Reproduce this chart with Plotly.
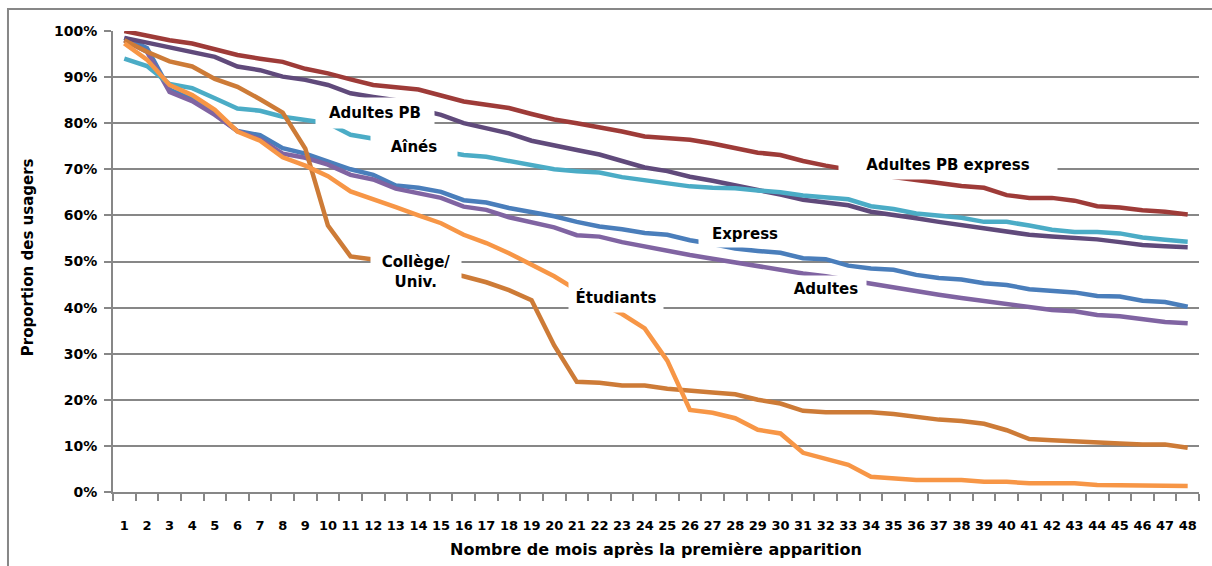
import plotly.graph_objects as go

# Months since first appearance
months = list(range(1, 49))

# Share of users still active (%), by user category
adultes_pb_express = [100, 99, 98, 97.3, 96, 94.8, 94, 93.3, 91.8, 90.8, 89.5, 88.3,
                      87.8, 87.3, 86, 84.7, 84, 83.3, 82, 80.8, 80, 79.2, 78.2, 77.1,
                      76.7, 76.4, 75.6, 74.5, 73.6, 73.1, 71.8, 70.8, 70, 69, 68.3, 67.7,
                      67, 66.4, 66, 64.4, 63.8, 63.8, 63.2, 62, 61.7, 61.1, 60.8, 60.2]
adultes_pb = [98.5, 97.5, 96.6, 95.5, 94.4, 92.3, 91.5, 90.1, 89.4, 88.3, 86.5, 85.7,
              85, 83, 81.8, 80, 78.9, 77.8, 76.2, 75.3, 74.2, 73.2, 71.8, 70.4,
              69.6, 68.4, 67.5, 66.6, 65.5, 64.5, 63.4, 62.8, 62.2, 60.8, 60.2, 59.4,
              58.6, 57.9, 57, 56.4, 55.8, 55.4, 55.1, 54.8, 54.2, 53.6, 53.3, 53.1]
aines = [94, 92.4, 88.5, 87.6, 85.4, 83.2, 82.7, 81.4, 80.7, 80, 77.5, 76.7,
         75.8, 74.8, 74, 73.1, 72.7, 71.8, 71.1, 70, 69.6, 69.3, 68.3, 67.6,
         67, 66.3, 66, 65.9, 65.4, 65, 64.3, 63.8, 63.5, 62, 61.4, 60.4,
         60, 59.5, 58.6, 58.6, 57.8, 56.9, 56.4, 56.4, 56.1, 55.2, 54.7, 54.3]
express = [98.5, 96.3, 87.3, 85.2, 82, 78.3, 77.4, 74.6, 73.4, 71.8, 70, 68.8,
           66.5, 66, 65.1, 63.3, 62.8, 61.6, 60.8, 59.8, 58.6, 57.6, 57, 56.2,
           55.8, 54.6, 53.8, 52.8, 52.3, 51.9, 50.7, 50.5, 49.1, 48.5, 48.2, 47.1,
           46.4, 46.1, 45.3, 44.9, 44, 43.6, 43.3, 42.5, 42.4, 41.5, 41.2, 40.2]
adultes = [98, 95.5, 86.8, 84.8, 81.8, 78.3, 76.5, 73.4, 72.5, 71, 68.8, 67.8,
           65.8, 64.8, 63.8, 61.9, 61.2, 59.6, 58.4, 57.4, 55.7, 55.4, 54.2, 53.2,
           52.4, 51.4, 50.6, 49.8, 48.9, 48.3, 47.4, 46.8, 46, 45.1, 44.4, 43.4,
           42.8, 42.1, 41.4, 40.8, 40.1, 39.5, 39.2, 38.4, 38.1, 37.5, 36.9, 36.6]
college_univ = [98, 95.5, 93.4, 92.3, 89.6, 87.9, 85.2, 82.3, 74.5, 57.8, 51.1, 50.5,
                49.8, 49, 48, 46.8, 45.5, 43.8, 41.6, 31.8, 23.9, 23.7, 23.1, 23.1,
                22.4, 22.1, 21.6, 21.2, 20, 19.2, 17.6, 17.3, 17.3, 17.3, 16.9, 16.3,
                15.7, 15.4, 14.8, 13.4, 11.5, 11.2, 10.9, 10.6, 10.5, 10.3, 10.3, 9.6]
etudiants = [97.3, 93.8, 88.3, 86.1, 82.9, 78.2, 76.2, 72.6, 70.8, 68.5, 65.2, 63.6,
             61.8, 60, 58.3, 55.8, 54, 51.8, 49.3, 46.8, 43.8, 41, 38.6, 35.5,
             28.5, 17.8, 17.2, 16, 13.5, 12.7, 8.5, 7.3, 5.9, 3.3, 2.9, 2.6,
             2.6, 2.6, 2.2, 2.2, 1.9, 1.9, 1.9, 1.5, 1.5, 1.3, 1.3, 1.3]

y_ticks = list(range(0, 101, 10))

series = [
    ("Express", express, "#4A7EBB"),
    ("Adultes", adultes, "#8064A2"),
    ("Adultes PB", adultes_pb, "#604A7B"),
    ("Aînés", aines, "#4BACC6"),
    ("Adultes PB express", adultes_pb_express, "#9E3B38"),
    ("Collège/Univ.", college_univ, "#CD7B37"),
    ("Étudiants", etudiants, "#F79646"),
]

FONT = "'DejaVu Sans', sans-serif"
GRID = "#878787"

fig = go.Figure()
for name, vals, color in series:
    fig.add_trace(go.Scatter(
        x=months, y=vals, name=name, mode="lines",
        line=dict(color=color, width=4.5),
        cliponaxis=False, showlegend=False,
    ))

# Inline series labels on white boxes
labels = [
    ("Adultes PB", 12.08, 82.2, 116, 28),
    ("Aînés", 13.8, 74.8, 84, 28),
    ("Adultes PB express", 37.4, 70.9, 216, 26),
    ("Express", 28.43, 56.0, 90, 24),
    ("Adultes", 32.0, 44.1, 78, 24),
    ("Collège/<br>Univ.", 13.89, 47.7, 88, 46),
    ("Étudiants", 22.73, 42.3, 92, 28),
]
for text, x, y, w, h in labels:
    fig.add_annotation(
        x=x, y=y, xref="x", yref="y", text=text, showarrow=False,
        font=dict(family=FONT, size=15, color="#000000", weight="bold"),
        bgcolor="#FFFFFF", width=w, height=h, align="center",
    )

# Axis titles
fig.add_annotation(
    x=0.5, y=-0.125, xref="paper", yref="paper", yanchor="middle",
    text="Nombre de mois après la première apparition", showarrow=False,
    font=dict(family=FONT, size=16, color="#000000", weight="bold"),
)
fig.add_annotation(
    x=-0.078, y=0.51, xref="paper", yref="paper", xanchor="center",
    text="Proportion des usagers", showarrow=False, textangle=-90,
    font=dict(family=FONT, size=15, color="#000000", weight="bold"),
)

# Chart-area border
fig.add_shape(
    type="rect", xref="paper", yref="paper",
    x0=-0.0967, x1=1.2, y0=-0.4, y1=1.0477,
    line=dict(color=GRID, width=2), fillcolor="rgba(0,0,0,0)", layer="below",
)

fig.update_layout(
    width=1212, height=566,
    margin=dict(l=113, r=13, t=31, b=74),
    paper_bgcolor="#FFFFFF", plot_bgcolor="#FFFFFF",
    font=dict(family=FONT, color="#000000"),
    xaxis=dict(
        range=[0.5, 48.5], tickmode="array", tickvals=months,
        ticktext=[str(m) for m in months], ticks="",
        tickfont=dict(family=FONT, size=13, weight="bold"),
        ticklabelstandoff=20,
        showgrid=False, zeroline=False,
        showline=True, linecolor=GRID, linewidth=2,
        minor=dict(tickmode="linear", tick0=0.5, dtick=1, ticks="outside",
                   ticklen=7, tickwidth=2, tickcolor=GRID, showgrid=False),
    ),
    yaxis=dict(
        range=[0, 100], tickmode="array", tickvals=y_ticks,
        ticktext=[f"{v}%" for v in y_ticks],
        ticks="outside", ticklen=7, tickwidth=2, tickcolor=GRID,
        tickfont=dict(family=FONT, size=14, weight="bold"),
        ticklabelstandoff=4,
        showgrid=True, gridcolor=GRID, gridwidth=2, zeroline=False,
        showline=True, linecolor=GRID, linewidth=2,
    ),
)

fig.write_html("out.html")
